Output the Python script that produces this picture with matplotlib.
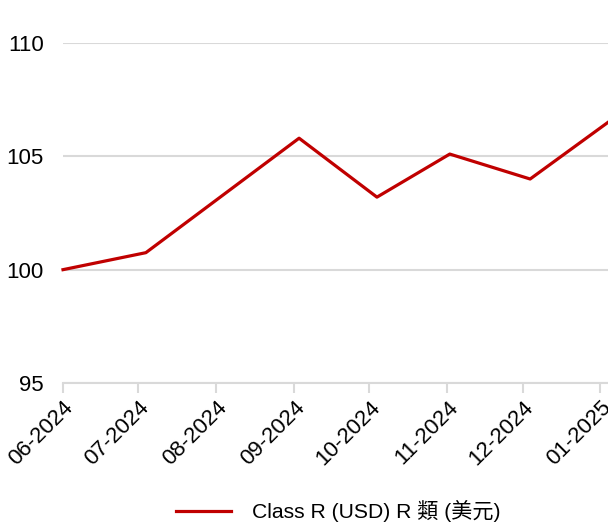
import pandas as pd
import matplotlib
matplotlib.use("Agg")
import matplotlib.pyplot as plt

plt.rcParams['font.family'] = ['Liberation Sans', 'Noto Sans CJK TC', 'DejaVu Sans']

# Data
dates = pd.to_datetime(["2024-06-01", "2024-07-04", "2024-09-03", "2024-10-04",
                        "2024-11-02", "2024-12-04", "2025-01-04"])
values = [100.0, 100.75, 105.8, 103.2, 105.1, 104.0, 106.5]
tick_dates = pd.date_range("2024-06-01", "2025-01-01", freq="MS")
tick_labels = [d.strftime("%m-%Y") for d in tick_dates]
series_label = "Class R (USD) R 類 (美元)"

fig = plt.figure(figsize=(6.08, 5.23), dpi=100)
ax = fig.add_axes([63 / 608, 1 - 383 / 523, 1 - 63 / 608, (383 - 43) / 523])

ax.plot(dates, values, color="#c00000", lw=2.3, label=series_label,
        clip_on=False, zorder=3)

ax.set_ylim(95, 110)
ax.set_yticks([95, 100, 105, 110])
ax.set_xlim(dates[0], dates[-1])
ax.set_xticks(tick_dates)
ax.set_xticklabels(tick_labels, rotation=45, ha="right", rotation_mode="anchor")

ax.grid(axis="y", color="#d9d9d9", lw=1.5)
ax.set_axisbelow(True)
for s in ["top", "right", "left"]:
    ax.spines[s].set_visible(False)
ax.spines["bottom"].set_color("#d9d9d9")
ax.spines["bottom"].set_linewidth(1.5)
ax.tick_params(axis="y", length=0, pad=14, labelsize=16)
ax.tick_params(axis="x", length=7, width=1.5, color="#d9d9d9", pad=3, labelsize=16)

fig.legend(loc="center", bbox_to_anchor=(0.557, 1 - 511 / 523), frameon=False,
           fontsize=15.2, handlelength=2.6, handletextpad=1.0)

fig.savefig("out.png", dpi=100)
